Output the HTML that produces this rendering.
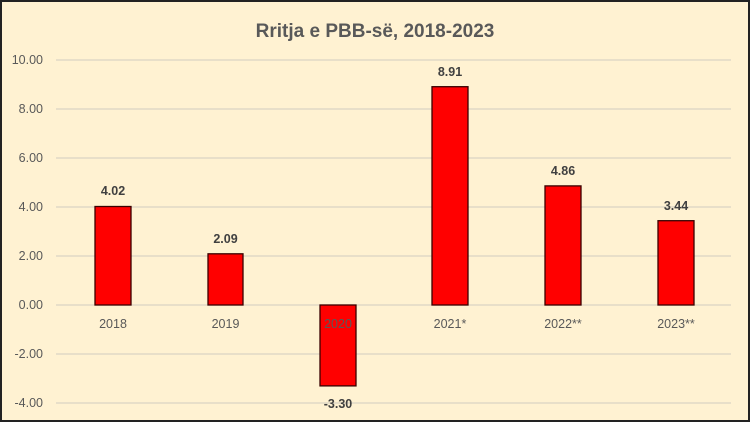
<!DOCTYPE html><html><head><style>body{margin:0}</style></head><body>
<svg width="750" height="422" xmlns="http://www.w3.org/2000/svg" font-family="Liberation Sans, sans-serif">
<rect x="1" y="1" width="748" height="420" fill="#FFF2D2" stroke="#222" stroke-width="2"/>
<text x="375" y="37" text-anchor="middle" font-size="19" font-weight="bold" fill="#595959">Rritja e PBB-së, 2018-2023</text>
<g stroke="#D9D4C4" stroke-width="1.3">
<line x1="56" x2="731" y1="60" y2="60"/><line x1="56" x2="731" y1="109" y2="109"/><line x1="56" x2="731" y1="158" y2="158"/><line x1="56" x2="731" y1="207" y2="207"/><line x1="56" x2="731" y1="256" y2="256"/><line x1="56" x2="731" y1="305" y2="305"/><line x1="56" x2="731" y1="354" y2="354"/><line x1="56" x2="731" y1="403" y2="403"/>
</g>
<g font-size="12.5" fill="#595959" text-anchor="end">
<text x="43" y="64">10.00</text><text x="43" y="113">8.00</text><text x="43" y="162">6.00</text><text x="43" y="211">4.00</text><text x="43" y="260">2.00</text><text x="43" y="309">0.00</text><text x="43" y="358">-2.00</text><text x="43" y="407">-4.00</text>
</g>
<g fill="#FF0000" stroke="#3a0000" stroke-width="1.3">
<rect x="95" y="206.5" width="36" height="98.5"/>
<rect x="208" y="253.8" width="35" height="51.2"/>
<rect x="320" y="305" width="36" height="80.9"/>
<rect x="432" y="86.7" width="36" height="218.3"/>
<rect x="545" y="185.9" width="36" height="119.1"/>
<rect x="658" y="220.7" width="36" height="84.3"/>
</g>
<g font-size="12.5" fill="#595959" text-anchor="middle">
<text x="113" y="328">2018</text><text x="225.5" y="328">2019</text><text x="338" y="328">2020</text><text x="450" y="328">2021*</text><text x="563" y="328">2022**</text><text x="676" y="328">2023**</text>
</g>
<g font-size="12.5" font-weight="bold" fill="#404040" text-anchor="middle">
<text x="113" y="195">4.02</text><text x="225.5" y="243">2.09</text><text x="338" y="408">-3.30</text><text x="450" y="76">8.91</text><text x="563" y="175">4.86</text><text x="676" y="210">3.44</text>
</g>
</svg></body></html>
